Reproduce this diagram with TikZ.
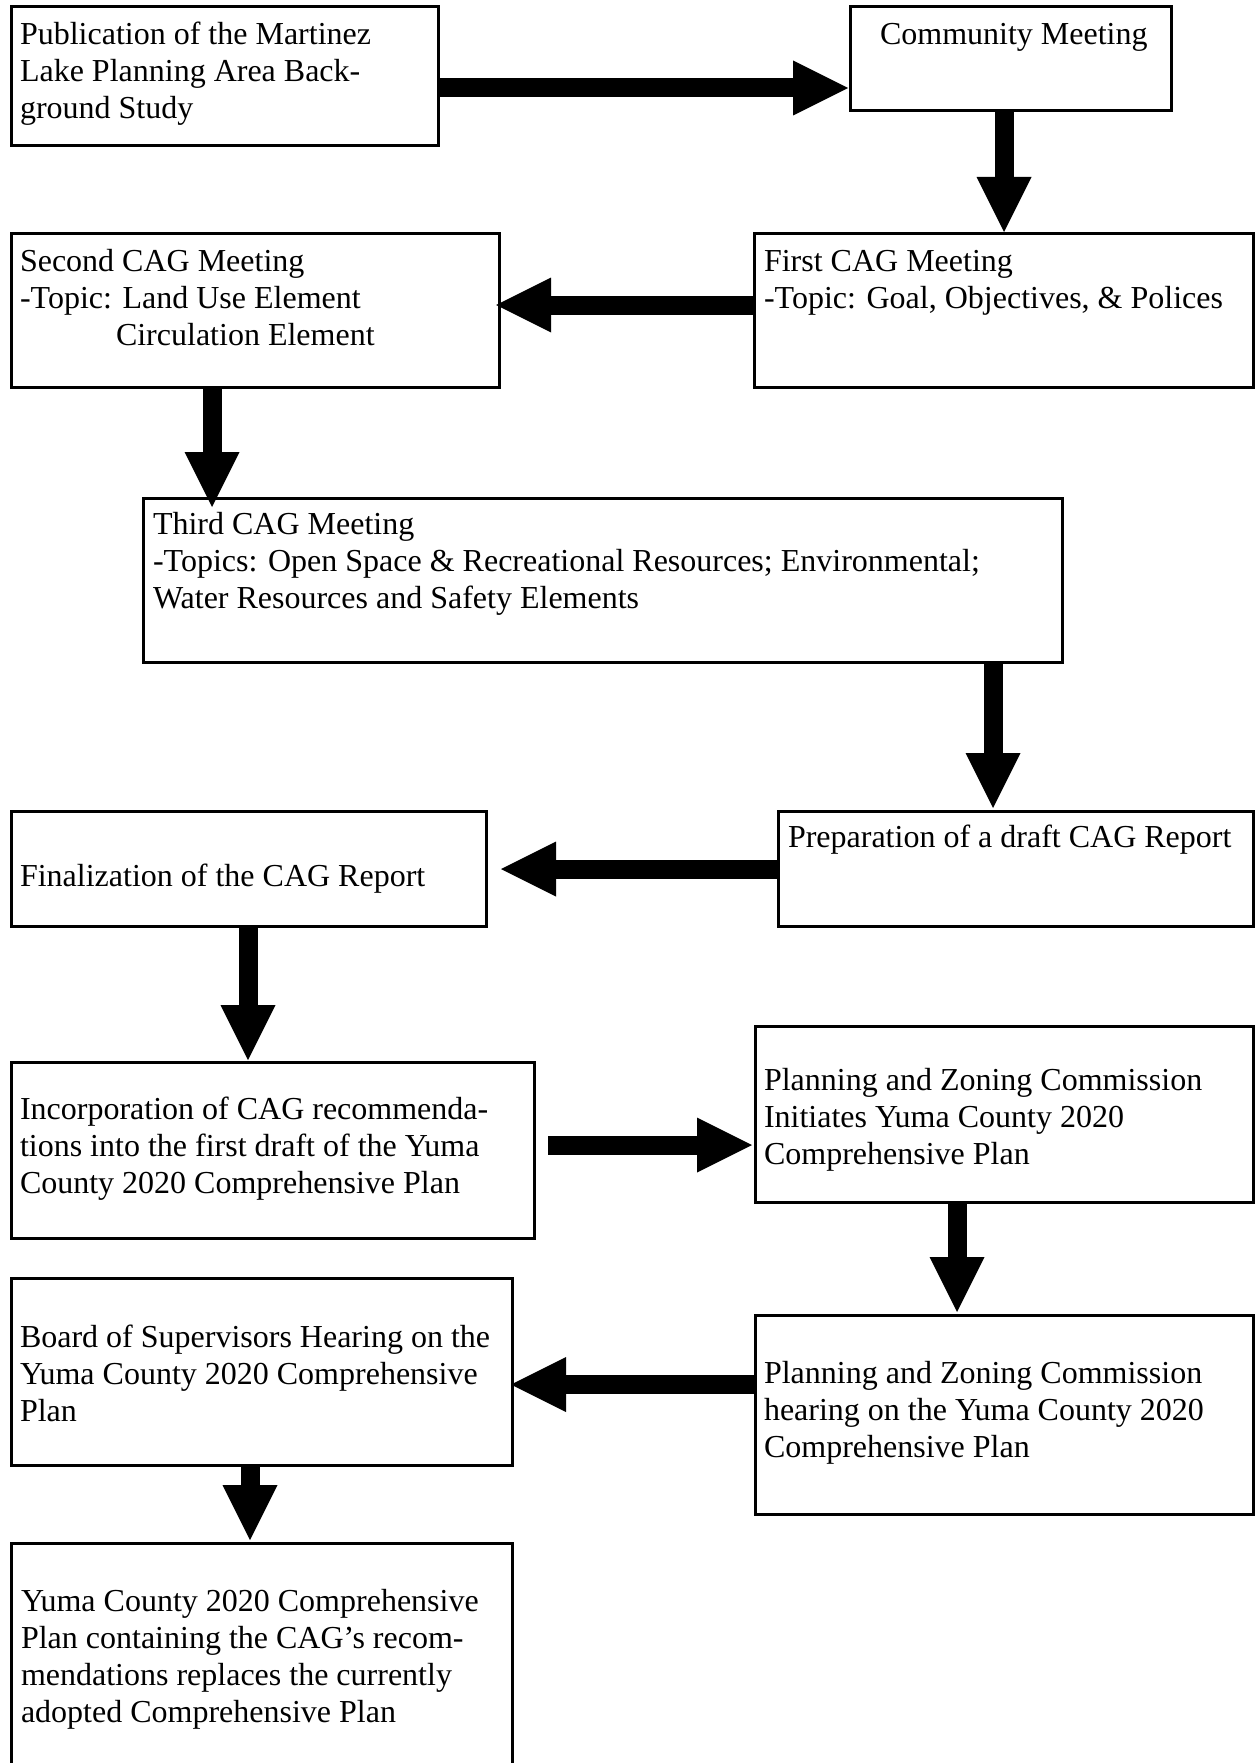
\documentclass[tikz,border=0pt]{standalone}
\usepackage{fontspec}
\setmainfont{Liberation Serif}
\usetikzlibrary{arrows.meta}
\begin{document}
\begin{tikzpicture}[x=1pt,y=-1pt,
  box/.style={draw, line width=3pt, inner sep=0pt, outer sep=0pt, anchor=north west},
  txt/.style={anchor=base west, inner sep=0pt, outer sep=0pt, align=left, font=\fontsize{32}{37}\selectfont},
  fat/.style={line width=19pt, line cap=butt, -{Triangle[width=55pt,length=55pt,line width=0pt]}}]
\useasboundingbox (0,0) rectangle (1255,1763);
\clip (0,0) rectangle (1255,1763);
% boxes
\node[box, minimum width=427pt, minimum height=139pt] (b1) at (11,7) {};
\node[box, minimum width=321pt, minimum height=104pt] (b2) at (850,7) {};
\node[box, minimum width=499pt, minimum height=154pt] (b3) at (754,233) {};
\node[box, minimum width=488pt, minimum height=154pt] (b4) at (11,233) {};
\node[box, minimum width=919pt, minimum height=164pt] (b5) at (143,498) {};
\node[box, minimum width=475pt, minimum height=115pt] (b6) at (778,811) {};
\node[box, minimum width=475pt, minimum height=115pt] (b7) at (11,811) {};
\node[box, minimum width=523pt, minimum height=176pt] (b8) at (11,1062) {};
\node[box, minimum width=498pt, minimum height=176pt] (b9) at (755,1026) {};
\node[box, minimum width=498pt, minimum height=199pt] (b10) at (755,1315) {};
\node[box, minimum width=501pt, minimum height=187pt] (b11) at (11,1278) {};
\node[box, minimum width=501pt, minimum height=260pt] (b12) at (11,1543) {};
% texts (anchored at the baseline of their last line)
\node[txt] (t1) at (20,119) {Publication of the Martinez\\Lake Planning Area Back-\\ground Study};
\node[txt] (t2) at (880,45) {Community Meeting};
\node[txt] (t3) at (764,308) {First CAG Meeting\\-Topic: Goal, Objectives, \& Polices};
\node[txt] (t4) at (20,345) {Second CAG Meeting\\-Topic: Land Use Element\\\hspace*{96pt}Circulation Element};
\node[txt] (t5) at (153,608) {Third CAG Meeting\\-Topics: Open Space \& Recreational Resources; Environmental;\\Water Resources and Safety Elements};
\node[txt] (t6) at (788,847) {Preparation of a draft CAG Report};
\node[txt] (t7) at (20,886) {Finalization of the CAG Report};
\node[txt] (t8) at (20,1193) {Incorporation of CAG recommenda-\\tions into the first draft of the Yuma\\County 2020 Comprehensive Plan};
\node[txt] (t9) at (764,1164) {Planning and Zoning Commission\\Initiates Yuma County 2020\\Comprehensive Plan};
\node[txt] (t10) at (764,1457) {Planning and Zoning Commission\\hearing on the Yuma County 2020\\Comprehensive Plan};
\node[txt] (t11) at (20,1421) {Board of Supervisors Hearing on the\\Yuma County 2020 Comprehensive\\Plan};
\node[txt] (t12) at (21,1722) {Yuma County 2020 Comprehensive\\Plan containing the CAG’s recom-\\mendations replaces the currently\\adopted Comprehensive Plan};
% arrows
\draw[fat, shorten >=2pt] (b1.east |- 0,88) -- (b2.west |- 0,88);
\draw[fat, shorten >=1pt] (b2.south -| 1004,0) -- (b3.north -| 1004,0);
\draw[fat, shorten >=-3pt] (b3.west |- 0,305) -- (b4.east |- 0,305);
\draw[fat, shorten >=-9pt] (b4.south -| 212,0) -- (b5.north -| 212,0);
\draw[fat, shorten >=3pt] (b5.south -| 993,0) -- (b6.north -| 993,0);
\draw[fat, shorten >=15pt] (b6.west |- 0,869) -- (b7.east |- 0,869);
\draw[fat, shorten >=2pt] (b7.south -| 248,0) -- (b8.north -| 248,0);
\draw[fat, shorten <=14pt, shorten >=3pt] (b8.east |- 0,1145) -- (b9.west |- 0,1145);
\draw[fat, shorten >=3pt] (b9.south -| 957,0) -- (b10.north -| 957,0);
\draw[fat, shorten >=-1pt] (b10.west |- 0,1384.5) -- (b11.east |- 0,1384.5);
\draw[fat, shorten >=3pt] (b11.south -| 250,0) -- (b12.north -| 250,0);
\end{tikzpicture}
\end{document}
